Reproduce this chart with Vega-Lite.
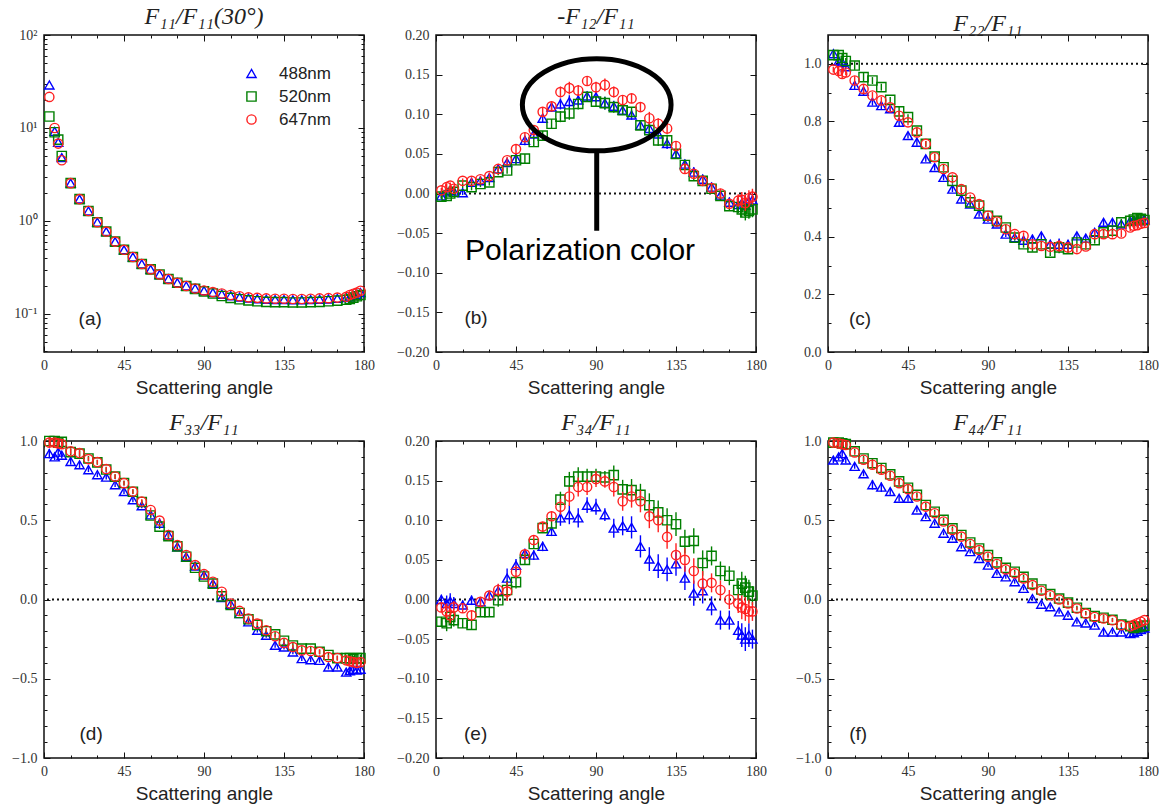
{
"$schema": "https://vega.github.io/schema/vega-lite/v6.json",
"background": "white",
"padding": {"left": 10, "top": 4, "right": 0, "bottom": 0},
"datasets": {
"a": [
{"x":3,"488nm":29,"520nm":13.3,"647nm":21.6},
{"x":6,"488nm":9.2,"520nm":9.0,"647nm":10.0},
{"x":8,"488nm":7.0,"520nm":7.5,"647nm":6.8},
{"x":10,"488nm":4.8,"520nm":5.0,"647nm":4.5},
{"x":15,"488nm":2.55,"520nm":2.55,"647nm":2.55},
{"x":20,"488nm":1.72,"520nm":1.72,"647nm":1.72},
{"x":25,"488nm":1.28,"520nm":1.28,"647nm":1.28},
{"x":30,"488nm":0.97,"520nm":0.97,"647nm":0.97},
{"x":35,"488nm":0.77,"520nm":0.77,"647nm":0.77},
{"x":40,"488nm":0.6,"520nm":0.6,"647nm":0.6},
{"x":45,"488nm":0.49,"520nm":0.49,"647nm":0.49},
{"x":50,"488nm":0.41,"520nm":0.41,"647nm":0.41},
{"x":55,"488nm":0.345,"520nm":0.345,"647nm":0.345},
{"x":60,"488nm":0.302,"520nm":0.302,"647nm":0.302},
{"x":65,"488nm":0.266,"520nm":0.266,"647nm":0.266},
{"x":70,"488nm":0.238,"520nm":0.238,"647nm":0.238},
{"x":75,"488nm":0.217,"520nm":0.217,"647nm":0.217},
{"x":80,"488nm":0.2,"520nm":0.2,"647nm":0.2},
{"x":85,"488nm":0.188,"520nm":0.186,"647nm":0.188},
{"x":90,"488nm":0.178,"520nm":0.175,"647nm":0.179},
{"x":95,"488nm":0.17,"520nm":0.166,"647nm":0.172},
{"x":100,"488nm":0.163,"520nm":0.156,"647nm":0.166},
{"x":105,"488nm":0.157,"520nm":0.149,"647nm":0.16},
{"x":110,"488nm":0.152,"520nm":0.144,"647nm":0.155},
{"x":115,"488nm":0.148,"520nm":0.14,"647nm":0.151},
{"x":120,"488nm":0.146,"520nm":0.137,"647nm":0.149},
{"x":125,"488nm":0.144,"520nm":0.135,"647nm":0.147},
{"x":130,"488nm":0.143,"520nm":0.134,"647nm":0.146},
{"x":135,"488nm":0.143,"520nm":0.134,"647nm":0.146},
{"x":140,"488nm":0.142,"520nm":0.133,"647nm":0.145},
{"x":145,"488nm":0.142,"520nm":0.133,"647nm":0.145},
{"x":150,"488nm":0.143,"520nm":0.134,"647nm":0.146},
{"x":155,"488nm":0.144,"520nm":0.135,"647nm":0.147},
{"x":160,"488nm":0.145,"520nm":0.137,"647nm":0.148},
{"x":165,"488nm":0.147,"520nm":0.139,"647nm":0.15},
{"x":170,"488nm":0.15,"520nm":0.142,"647nm":0.153},
{"x":172,"488nm":0.152,"520nm":0.145,"647nm":0.16},
{"x":174,"488nm":0.158,"520nm":0.15,"647nm":0.165},
{"x":176,"488nm":0.163,"520nm":0.155,"647nm":0.17},
{"x":178,"488nm":0.17,"520nm":0.16,"647nm":0.178}
],
"b": [
{"x":3,"488nm":-0.003,"520nm":-0.004,"647nm":0.004,"e":0.003},
{"x":6,"488nm":0.002,"520nm":-0.003,"647nm":0.008,"e":0.004},
{"x":8,"488nm":0.004,"520nm":0.0,"647nm":0.010,"e":0.004},
{"x":10,"488nm":0.003,"520nm":0.002,"647nm":0.006,"e":0.004},
{"x":15,"488nm":0.001,"520nm":0.010,"647nm":0.016,"e":0.003},
{"x":20,"488nm":0.014,"520nm":0.008,"647nm":0.016,"e":0.004},
{"x":25,"488nm":0.016,"520nm":0.012,"647nm":0.018,"e":0.004},
{"x":30,"488nm":0.020,"520nm":0.014,"647nm":0.022,"e":0.004},
{"x":35,"488nm":0.031,"520nm":0.027,"647nm":0.031,"e":0.004},
{"x":40,"488nm":0.039,"520nm":0.029,"647nm":0.042,"e":0.004},
{"x":45,"488nm":0.044,"520nm":0.042,"647nm":0.056,"e":0.006},
{"x":50,"488nm":0.067,"520nm":0.044,"647nm":0.071,"e":0.006},
{"x":55,"488nm":0.075,"520nm":0.065,"647nm":0.080,"e":0.006},
{"x":60,"488nm":0.095,"520nm":0.073,"647nm":0.103,"e":0.006},
{"x":65,"488nm":0.109,"520nm":0.088,"647nm":0.110,"e":0.006},
{"x":70,"488nm":0.113,"520nm":0.097,"647nm":0.128,"e":0.007},
{"x":75,"488nm":0.116,"520nm":0.101,"647nm":0.133,"e":0.008},
{"x":80,"488nm":0.118,"520nm":0.113,"647nm":0.130,"e":0.007},
{"x":85,"488nm":0.123,"520nm":0.122,"647nm":0.142,"e":0.006},
{"x":90,"488nm":0.122,"520nm":0.116,"647nm":0.134,"e":0.007},
{"x":95,"488nm":0.114,"520nm":0.114,"647nm":0.137,"e":0.008},
{"x":100,"488nm":0.110,"520nm":0.109,"647nm":0.128,"e":0.007},
{"x":105,"488nm":0.105,"520nm":0.105,"647nm":0.118,"e":0.006},
{"x":110,"488nm":0.099,"520nm":0.103,"647nm":0.120,"e":0.006},
{"x":115,"488nm":0.086,"520nm":0.086,"647nm":0.109,"e":0.006},
{"x":120,"488nm":0.082,"520nm":0.080,"647nm":0.095,"e":0.008},
{"x":125,"488nm":0.075,"520nm":0.067,"647nm":0.088,"e":0.007},
{"x":130,"488nm":0.063,"520nm":0.067,"647nm":0.082,"e":0.007},
{"x":135,"488nm":0.050,"520nm":0.050,"647nm":0.060,"e":0.006},
{"x":140,"488nm":0.037,"520nm":0.036,"647nm":0.031,"e":0.006},
{"x":145,"488nm":0.027,"520nm":0.022,"647nm":0.025,"e":0.006},
{"x":150,"488nm":0.018,"520nm":0.016,"647nm":0.016,"e":0.006},
{"x":155,"488nm":0.008,"520nm":0.006,"647nm":0.007,"e":0.006},
{"x":160,"488nm":-0.002,"520nm":-0.003,"647nm":0.000,"e":0.006},
{"x":165,"488nm":-0.011,"520nm":-0.016,"647nm":-0.013,"e":0.006},
{"x":170,"488nm":-0.014,"520nm":-0.017,"647nm":-0.009,"e":0.008},
{"x":172,"488nm":-0.012,"520nm":-0.020,"647nm":-0.008,"e":0.010},
{"x":174,"488nm":-0.015,"520nm":-0.024,"647nm":-0.012,"e":0.010},
{"x":176,"488nm":-0.010,"520nm":-0.022,"647nm":-0.006,"e":0.010},
{"x":178,"488nm":-0.008,"520nm":-0.020,"647nm":-0.004,"e":0.010}
],
"c": [
{"x":3,"488nm":1.035,"520nm":1.03,"647nm":0.98,"e":0.01},
{"x":6,"488nm":1.01,"520nm":1.03,"647nm":0.975,"e":0.015},
{"x":8,"488nm":1.005,"520nm":1.02,"647nm":0.965,"e":0.015},
{"x":10,"488nm":0.99,"520nm":1.01,"647nm":0.97,"e":0.01},
{"x":15,"488nm":0.925,"520nm":0.994,"647nm":0.942,"e":0.015},
{"x":20,"488nm":0.905,"520nm":0.954,"647nm":0.913,"e":0.015},
{"x":25,"488nm":0.867,"520nm":0.942,"647nm":0.89,"e":0.012},
{"x":30,"488nm":0.855,"520nm":0.919,"647nm":0.873,"e":0.012},
{"x":35,"488nm":0.844,"520nm":0.875,"647nm":0.849,"e":0.01},
{"x":40,"488nm":0.797,"520nm":0.835,"647nm":0.82,"e":0.015},
{"x":45,"488nm":0.751,"520nm":0.815,"647nm":0.797,"e":0.01},
{"x":50,"488nm":0.728,"520nm":0.768,"647nm":0.762,"e":0.012},
{"x":55,"488nm":0.67,"520nm":0.722,"647nm":0.722,"e":0.01},
{"x":60,"488nm":0.64,"520nm":0.678,"647nm":0.676,"e":0.01},
{"x":65,"488nm":0.606,"520nm":0.641,"647nm":0.635,"e":0.01},
{"x":70,"488nm":0.565,"520nm":0.594,"647nm":0.606,"e":0.01},
{"x":75,"488nm":0.531,"520nm":0.56,"647nm":0.565,"e":0.01},
{"x":80,"488nm":0.513,"520nm":0.519,"647nm":0.536,"e":0.01},
{"x":85,"488nm":0.479,"520nm":0.508,"647nm":0.513,"e":0.01},
{"x":90,"488nm":0.461,"520nm":0.473,"647nm":0.473,"e":0.01},
{"x":95,"488nm":0.444,"520nm":0.455,"647nm":0.453,"e":0.01},
{"x":100,"488nm":0.409,"520nm":0.432,"647nm":0.426,"e":0.01},
{"x":105,"488nm":0.397,"520nm":0.397,"647nm":0.409,"e":0.01},
{"x":110,"488nm":0.388,"520nm":0.374,"647nm":0.403,"e":0.012},
{"x":115,"488nm":0.392,"520nm":0.363,"647nm":0.374,"e":0.015},
{"x":120,"488nm":0.403,"520nm":0.374,"647nm":0.368,"e":0.012},
{"x":125,"488nm":0.374,"520nm":0.345,"647nm":0.365,"e":0.012},
{"x":130,"488nm":0.374,"520nm":0.363,"647nm":0.368,"e":0.02},
{"x":135,"488nm":0.374,"520nm":0.357,"647nm":0.363,"e":0.015},
{"x":140,"488nm":0.403,"520nm":0.38,"647nm":0.357,"e":0.012},
{"x":145,"488nm":0.395,"520nm":0.374,"647nm":0.366,"e":0.012},
{"x":150,"488nm":0.415,"520nm":0.388,"647nm":0.409,"e":0.012},
{"x":155,"488nm":0.45,"520nm":0.415,"647nm":0.409,"e":0.012},
{"x":160,"488nm":0.45,"520nm":0.421,"647nm":0.409,"e":0.012},
{"x":165,"488nm":0.444,"520nm":0.45,"647nm":0.411,"e":0.012},
{"x":170,"488nm":0.455,"520nm":0.455,"647nm":0.432,"e":0.012},
{"x":172,"488nm":0.455,"520nm":0.46,"647nm":0.438,"e":0.012},
{"x":174,"488nm":0.46,"520nm":0.465,"647nm":0.44,"e":0.012},
{"x":176,"488nm":0.455,"520nm":0.462,"647nm":0.445,"e":0.012},
{"x":178,"488nm":0.46,"520nm":0.458,"647nm":0.448,"e":0.012}
],
"d": [
{"x":3,"488nm":0.92,"520nm":1.0,"647nm":0.99,"e":0.03},
{"x":6,"488nm":0.90,"520nm":1.0,"647nm":0.99,"e":0.02},
{"x":8,"488nm":0.93,"520nm":0.99,"647nm":0.985,"e":0.02},
{"x":10,"488nm":0.91,"520nm":0.995,"647nm":0.98,"e":0.02},
{"x":15,"488nm":0.871,"520nm":0.93,"647nm":0.935,"e":0.02},
{"x":20,"488nm":0.85,"520nm":0.92,"647nm":0.924,"e":0.02},
{"x":25,"488nm":0.819,"520nm":0.89,"647nm":0.886,"e":0.015},
{"x":30,"488nm":0.787,"520nm":0.865,"647nm":0.867,"e":0.015},
{"x":35,"488nm":0.772,"520nm":0.82,"647nm":0.823,"e":0.015},
{"x":40,"488nm":0.724,"520nm":0.775,"647nm":0.776,"e":0.015},
{"x":45,"488nm":0.681,"520nm":0.735,"647nm":0.734,"e":0.015},
{"x":50,"488nm":0.629,"520nm":0.68,"647nm":0.681,"e":0.015},
{"x":55,"488nm":0.591,"520nm":0.615,"647nm":0.618,"e":0.015},
{"x":60,"488nm":0.534,"520nm":0.53,"647nm":0.565,"e":0.015},
{"x":65,"488nm":0.481,"520nm":0.46,"647nm":0.498,"e":0.015},
{"x":70,"488nm":0.407,"520nm":0.40,"647nm":0.407,"e":0.015},
{"x":75,"488nm":0.333,"520nm":0.335,"647nm":0.344,"e":0.015},
{"x":80,"488nm":0.27,"520nm":0.27,"647nm":0.281,"e":0.015},
{"x":85,"488nm":0.211,"520nm":0.2,"647nm":0.217,"e":0.015},
{"x":90,"488nm":0.154,"520nm":0.145,"647nm":0.16,"e":0.015},
{"x":95,"488nm":0.101,"520nm":0.1,"647nm":0.112,"e":0.015},
{"x":100,"488nm":0.013,"520nm":0.02,"647nm":0.049,"e":0.015},
{"x":105,"488nm":-0.03,"520nm":-0.035,"647nm":-0.025,"e":0.015},
{"x":110,"488nm":-0.089,"520nm":-0.085,"647nm":-0.072,"e":0.015},
{"x":115,"488nm":-0.141,"520nm":-0.125,"647nm":-0.12,"e":0.015},
{"x":120,"488nm":-0.194,"520nm":-0.16,"647nm":-0.152,"e":0.015},
{"x":125,"488nm":-0.226,"520nm":-0.2,"647nm":-0.194,"e":0.015},
{"x":130,"488nm":-0.289,"520nm":-0.22,"647nm":-0.232,"e":0.015},
{"x":135,"488nm":-0.3,"520nm":-0.26,"647nm":-0.274,"e":0.015},
{"x":140,"488nm":-0.331,"520nm":-0.29,"647nm":-0.3,"e":0.015},
{"x":145,"488nm":-0.373,"520nm":-0.31,"647nm":-0.321,"e":0.015},
{"x":150,"488nm":-0.38,"520nm":-0.31,"647nm":-0.325,"e":0.015},
{"x":155,"488nm":-0.384,"520nm":-0.33,"647nm":-0.331,"e":0.015},
{"x":160,"488nm":-0.426,"520nm":-0.35,"647nm":-0.363,"e":0.015},
{"x":165,"488nm":-0.426,"520nm":-0.37,"647nm":-0.369,"e":0.015},
{"x":170,"488nm":-0.458,"520nm":-0.37,"647nm":-0.384,"e":0.015},
{"x":172,"488nm":-0.45,"520nm":-0.37,"647nm":-0.39,"e":0.02},
{"x":174,"488nm":-0.44,"520nm":-0.375,"647nm":-0.395,"e":0.02},
{"x":176,"488nm":-0.445,"520nm":-0.37,"647nm":-0.40,"e":0.02},
{"x":178,"488nm":-0.44,"520nm":-0.37,"647nm":-0.395,"e":0.02}
],
"e": [
{"x":3,"488nm":0.0,"520nm":-0.028,"647nm":-0.01,"e":0.006},
{"x":6,"488nm":-0.005,"520nm":-0.03,"647nm":-0.015,"e":0.01},
{"x":8,"488nm":-0.002,"520nm":-0.022,"647nm":-0.02,"e":0.01},
{"x":10,"488nm":-0.005,"520nm":-0.026,"647nm":-0.01,"e":0.008},
{"x":15,"488nm":-0.007,"520nm":-0.03,"647nm":-0.011,"e":0.006},
{"x":20,"488nm":-0.001,"520nm":-0.032,"647nm":-0.02,"e":0.006},
{"x":25,"488nm":-0.003,"520nm":-0.016,"647nm":-0.003,"e":0.006},
{"x":30,"488nm":0.005,"520nm":-0.016,"647nm":0.005,"e":0.006},
{"x":35,"488nm":0.011,"520nm":-0.001,"647nm":0.012,"e":0.008},
{"x":40,"488nm":0.027,"520nm":0.012,"647nm":0.01,"e":0.012},
{"x":45,"488nm":0.043,"520nm":0.022,"647nm":0.035,"e":0.008},
{"x":50,"488nm":0.058,"520nm":0.05,"647nm":0.057,"e":0.006},
{"x":55,"488nm":0.056,"520nm":0.07,"647nm":0.075,"e":0.006},
{"x":60,"488nm":0.067,"520nm":0.09,"647nm":0.092,"e":0.006},
{"x":65,"488nm":0.086,"520nm":0.096,"647nm":0.105,"e":0.006},
{"x":70,"488nm":0.103,"520nm":0.126,"647nm":0.117,"e":0.01},
{"x":75,"488nm":0.107,"520nm":0.149,"647nm":0.13,"e":0.012},
{"x":80,"488nm":0.103,"520nm":0.155,"647nm":0.142,"e":0.012},
{"x":85,"488nm":0.119,"520nm":0.155,"647nm":0.142,"e":0.01},
{"x":90,"488nm":0.117,"520nm":0.155,"647nm":0.152,"e":0.01},
{"x":95,"488nm":0.107,"520nm":0.154,"647nm":0.149,"e":0.008},
{"x":100,"488nm":0.09,"520nm":0.157,"647nm":0.142,"e":0.012},
{"x":105,"488nm":0.093,"520nm":0.139,"647nm":0.124,"e":0.012},
{"x":110,"488nm":0.091,"520nm":0.138,"647nm":0.13,"e":0.014},
{"x":115,"488nm":0.067,"520nm":0.132,"647nm":0.124,"e":0.014},
{"x":120,"488nm":0.051,"520nm":0.119,"647nm":0.105,"e":0.015},
{"x":125,"488nm":0.042,"520nm":0.11,"647nm":0.1,"e":0.015},
{"x":130,"488nm":0.038,"520nm":0.1,"647nm":0.079,"e":0.015},
{"x":135,"488nm":0.045,"520nm":0.095,"647nm":0.056,"e":0.015},
{"x":140,"488nm":0.027,"520nm":0.073,"647nm":0.05,"e":0.015},
{"x":145,"488nm":0.008,"520nm":0.074,"647nm":0.036,"e":0.016},
{"x":150,"488nm":0.011,"520nm":0.046,"647nm":0.02,"e":0.016},
{"x":155,"488nm":-0.008,"520nm":0.055,"647nm":0.021,"e":0.012},
{"x":160,"488nm":-0.026,"520nm":0.036,"647nm":0.012,"e":0.012},
{"x":165,"488nm":-0.026,"520nm":0.03,"647nm":0.0,"e":0.012},
{"x":170,"488nm":-0.039,"520nm":0.012,"647nm":-0.005,"e":0.012},
{"x":172,"488nm":-0.045,"520nm":0.02,"647nm":-0.01,"e":0.015},
{"x":174,"488nm":-0.05,"520nm":0.015,"647nm":-0.012,"e":0.015},
{"x":176,"488nm":-0.045,"520nm":0.01,"647nm":-0.015,"e":0.015},
{"x":178,"488nm":-0.05,"520nm":0.005,"647nm":-0.015,"e":0.012}
],
"f": [
{"x":3,"488nm":0.88,"520nm":0.99,"647nm":0.99,"e":0.02},
{"x":6,"488nm":0.90,"520nm":0.99,"647nm":0.985,"e":0.02},
{"x":8,"488nm":0.92,"520nm":0.985,"647nm":0.98,"e":0.02},
{"x":10,"488nm":0.88,"520nm":0.98,"647nm":0.975,"e":0.02},
{"x":15,"488nm":0.84,"520nm":0.935,"647nm":0.928,"e":0.015},
{"x":20,"488nm":0.793,"520nm":0.89,"647nm":0.882,"e":0.015},
{"x":25,"488nm":0.724,"520nm":0.86,"647nm":0.85,"e":0.03},
{"x":30,"488nm":0.709,"520nm":0.83,"647nm":0.819,"e":0.03},
{"x":35,"488nm":0.681,"520nm":0.79,"647nm":0.781,"e":0.02},
{"x":40,"488nm":0.639,"520nm":0.745,"647nm":0.734,"e":0.02},
{"x":45,"488nm":0.639,"520nm":0.705,"647nm":0.696,"e":0.02},
{"x":50,"488nm":0.565,"520nm":0.66,"647nm":0.65,"e":0.015},
{"x":55,"488nm":0.523,"520nm":0.596,"647nm":0.586,"e":0.015},
{"x":60,"488nm":0.481,"520nm":0.554,"647nm":0.544,"e":0.012},
{"x":65,"488nm":0.418,"520nm":0.502,"647nm":0.492,"e":0.012},
{"x":70,"488nm":0.386,"520nm":0.449,"647nm":0.439,"e":0.012},
{"x":75,"488nm":0.333,"520nm":0.407,"647nm":0.397,"e":0.012},
{"x":80,"488nm":0.302,"520nm":0.36,"647nm":0.35,"e":0.012},
{"x":85,"488nm":0.259,"520nm":0.322,"647nm":0.312,"e":0.012},
{"x":90,"488nm":0.217,"520nm":0.28,"647nm":0.27,"e":0.012},
{"x":95,"488nm":0.165,"520nm":0.234,"647nm":0.224,"e":0.012},
{"x":100,"488nm":0.143,"520nm":0.2,"647nm":0.19,"e":0.012},
{"x":105,"488nm":0.112,"520nm":0.175,"647nm":0.165,"e":0.012},
{"x":110,"488nm":0.07,"520nm":0.143,"647nm":0.133,"e":0.012},
{"x":115,"488nm":0.006,"520nm":0.1,"647nm":0.091,"e":0.012},
{"x":120,"488nm":-0.03,"520nm":0.063,"647nm":0.055,"e":0.012},
{"x":125,"488nm":-0.046,"520nm":0.034,"647nm":0.027,"e":0.012},
{"x":130,"488nm":-0.078,"520nm":0.006,"647nm":0.0,"e":0.012},
{"x":135,"488nm":-0.099,"520nm":-0.02,"647nm":-0.025,"e":0.012},
{"x":140,"488nm":-0.141,"520nm":-0.052,"647nm":-0.057,"e":0.012},
{"x":145,"488nm":-0.148,"520nm":-0.085,"647nm":-0.089,"e":0.012},
{"x":150,"488nm":-0.162,"520nm":-0.105,"647nm":-0.11,"e":0.012},
{"x":155,"488nm":-0.205,"520nm":-0.115,"647nm":-0.12,"e":0.02},
{"x":160,"488nm":-0.205,"520nm":-0.128,"647nm":-0.131,"e":0.012},
{"x":165,"488nm":-0.205,"520nm":-0.158,"647nm":-0.162,"e":0.012},
{"x":170,"488nm":-0.215,"520nm":-0.168,"647nm":-0.169,"e":0.012},
{"x":172,"488nm":-0.21,"520nm":-0.18,"647nm":-0.16,"e":0.012},
{"x":174,"488nm":-0.2,"520nm":-0.175,"647nm":-0.15,"e":0.012},
{"x":176,"488nm":-0.19,"520nm":-0.17,"647nm":-0.14,"e":0.012},
{"x":178,"488nm":-0.18,"520nm":-0.165,"647nm":-0.13,"e":0.012}
]
},
"columns": 3,
"spacing": {"row": 89, "column": 72},
"bounds": "flush",
"align": "all",
"resolve": {"scale": {"color": "shared", "shape": "shared"}, "legend": {"color": "shared", "shape": "shared"}},
"concat": [
{
"width": 320, "height": 317,
"title": {"text": "F₁₁/F₁₁(30°)"},
"data": {"name": "a"},
"resolve": {"axis": {"x": "independent", "y": "independent"}},
"layer": [
{"transform": [{"fold": ["488nm","520nm","647nm"], "as": ["s","v"]}, {"filter": "datum.s === '488nm'"}],
 "mark": {"type": "point", "filled": false, "size": 85, "strokeWidth": 1.4, "opacity": 1},
 "encoding": {
  "x": {"field": "x", "type": "quantitative", "scale": {"domain": [0,180], "nice": false, "zero": false}, "axis": {"orient": "bottom", "values": [0,45,90,135,180], "format": "d", "tickSize": -6, "labelPadding": 12, "title": "Scattering angle", "labelFlush": false, "labelOverlap": false}},
  "y": {"field": "v", "type": "quantitative", "scale": {"type": "log", "domain": [0.039,100], "nice": false}, "axis": {"orient": "left", "values": [0.1,1,10,100], "labelExpr": "datum.value >= 100 ? '10²' : datum.value >= 10 ? '10¹' : datum.value >= 1 ? '10⁰' : '10⁻¹'", "tickSize": -6, "labelPadding": 13, "title": null, "labelFlush": false, "labelOverlap": false}},
  "color": {"field": "s", "type": "nominal", "scale": {"domain": ["488nm","520nm","647nm"], "range": ["#0000ff","#007f00","#ff2020"]}, "legend": {"title": null, "orient": "none", "legendX": 199, "legendY": 30, "labelOffset": 19, "symbolSize": 85, "symbolStrokeWidth": 1.4, "labelFontSize": 17, "rowPadding": 5}},
  "shape": {"field": "s", "type": "nominal", "scale": {"domain": ["488nm","520nm","647nm"], "range": ["triangle-up","square","circle"]}, "legend": {"title": null, "orient": "none", "legendX": 199, "legendY": 30, "labelOffset": 19, "symbolSize": 85, "symbolStrokeWidth": 1.4, "labelFontSize": 17, "rowPadding": 5}}
 }},
{"transform": [{"fold": ["488nm","520nm","647nm"], "as": ["s","v"]}, {"filter": "datum.s === '520nm'"}],
 "mark": {"type": "point", "filled": false, "size": 85, "strokeWidth": 1.4, "opacity": 1},
 "encoding": {
  "x": {"field": "x", "type": "quantitative", "scale": {"domain": [0,180], "nice": false, "zero": false}, "axis": {"orient": "bottom", "values": [15,30,60,75,105,120,150,165], "tickSize": -3, "labels": false, "title": null}},
  "y": {"field": "v", "type": "quantitative", "scale": {"type": "log", "domain": [0.039,100], "nice": false}, "axis": {"orient": "left", "values": [0.04,0.05,0.06,0.07,0.08,0.09,0.2,0.3,0.4,0.5,0.6,0.7,0.8,0.9,2,3,4,5,6,7,8,9,20,30,40,50,60,70,80,90], "tickSize": -3, "labels": false, "title": null}},
  "color": {"field": "s", "type": "nominal", "scale": {"domain": ["488nm","520nm","647nm"], "range": ["#0000ff","#007f00","#ff2020"]}},
  "shape": {"field": "s", "type": "nominal", "scale": {"domain": ["488nm","520nm","647nm"], "range": ["triangle-up","square","circle"]}}
 }},
{"transform": [{"fold": ["488nm","520nm","647nm"], "as": ["s","v"]}, {"filter": "datum.s === '647nm'"}],
 "mark": {"type": "point", "filled": false, "size": 85, "strokeWidth": 1.4, "opacity": 1},
 "encoding": {
  "x": {"field": "x", "type": "quantitative", "scale": {"domain": [0,180], "nice": false, "zero": false}, "axis": {"orient": "top", "values": [0,45,90,135,180], "tickSize": -6, "labels": false, "title": null}},
  "y": {"field": "v", "type": "quantitative", "scale": {"type": "log", "domain": [0.039,100], "nice": false}, "axis": {"orient": "right", "values": [0.1,1,10,100], "tickSize": -6, "labels": false, "title": null}},
  "color": {"field": "s", "type": "nominal", "scale": {"domain": ["488nm","520nm","647nm"], "range": ["#0000ff","#007f00","#ff2020"]}},
  "shape": {"field": "s", "type": "nominal", "scale": {"domain": ["488nm","520nm","647nm"], "range": ["triangle-up","square","circle"]}}
 }},
{"mark": {"type": "point", "opacity": 0},
 "encoding": {
  "x": {"field": "x", "type": "quantitative", "scale": {"domain": [0,180], "nice": false, "zero": false}, "axis": {"orient": "top", "values": [15,30,60,75,105,120,150,165], "tickSize": -3, "labels": false, "title": null}},
  "y": {"field": "488nm", "type": "quantitative", "scale": {"type": "log", "domain": [0.039,100], "nice": false}, "axis": {"orient": "right", "values": [0.04,0.05,0.06,0.07,0.08,0.09,0.2,0.3,0.4,0.5,0.6,0.7,0.8,0.9,2,3,4,5,6,7,8,9,20,30,40,50,60,70,80,90], "tickSize": -3, "labels": false, "title": null}}
 }},
{"data": {"values": [{}]},
 "mark": {"type": "text", "text": "(a)", "font": "Liberation Sans", "fontSize": 19, "color": "#222", "align": "center", "baseline": "middle"},
 "encoding": {"x": {"datum": 26, "type": "quantitative", "axis": null}, "y": {"datum": 0.088, "type": "quantitative", "axis": null}}}
]
},
{
"width": 320, "height": 317,
"title": {"text": "-F₁₂/F₁₁"},
"data": {"name": "b"},
"resolve": {"axis": {"x": "independent", "y": "independent"}},
"layer": [
{"data": {"values": [{}]}, "mark": {"type": "rule", "strokeDash": [2,3], "strokeWidth": 2, "color": "#111"},
 "encoding": {"y": {"datum": 0, "type": "quantitative", "scale": {"domain": [-0.2,0.2], "nice": false}, "axis": null}}},
{"transform": [{"fold": ["488nm","520nm","647nm"], "as": ["s","v"]}, {"filter": "datum.s === '488nm'"}],
 "mark": {"type": "errorbar", "ticks": false, "thickness": 1.4},
 "encoding": {"x": {"field": "x", "type": "quantitative", "scale": {"domain": [0,180], "nice": false, "zero": false}, "axis": null}, "y": {"field": "v", "type": "quantitative", "scale": {"domain": [-0.2,0.2], "nice": false}, "axis": null}, "yError": {"field": "e"}, "color": {"field": "s", "type": "nominal", "legend": null, "scale": {"domain": ["488nm","520nm","647nm"], "range": ["#0000ff","#007f00","#ff2020"]}}}},
{"transform": [{"fold": ["488nm","520nm","647nm"], "as": ["s","v"]}, {"filter": "datum.s === '488nm'"}],
 "mark": {"type": "point", "filled": false, "size": 85, "strokeWidth": 1.4, "opacity": 1},
 "encoding": {
  "x": {"field": "x", "type": "quantitative", "scale": {"domain": [0,180], "nice": false, "zero": false}, "axis": {"orient": "bottom", "values": [0,45,90,135,180], "format": "d", "tickSize": -6, "labelPadding": 12, "title": "Scattering angle", "labelFlush": false, "labelOverlap": false}},
  "y": {"field": "v", "type": "quantitative", "scale": {"domain": [-0.2,0.2], "nice": false}, "axis": {"orient": "left", "values": [-0.2,-0.15,-0.1,-0.05,0,0.05,0.1,0.15,0.2], "format": ".2f", "tickSize": -6, "labelPadding": 13, "title": null, "labelFlush": false, "labelOverlap": false}},
  "color": {"field": "s", "type": "nominal", "scale": {"domain": ["488nm","520nm","647nm"], "range": ["#0000ff","#007f00","#ff2020"]}},
  "shape": {"field": "s", "type": "nominal", "scale": {"domain": ["488nm","520nm","647nm"], "range": ["triangle-up","square","circle"]}}
 }},
{"transform": [{"fold": ["488nm","520nm","647nm"], "as": ["s","v"]}, {"filter": "datum.s === '520nm'"}],
 "mark": {"type": "errorbar", "ticks": false, "thickness": 1.4},
 "encoding": {"x": {"field": "x", "type": "quantitative", "scale": {"domain": [0,180], "nice": false, "zero": false}, "axis": null}, "y": {"field": "v", "type": "quantitative", "scale": {"domain": [-0.2,0.2], "nice": false}, "axis": null}, "yError": {"field": "e"}, "color": {"field": "s", "type": "nominal", "legend": null, "scale": {"domain": ["488nm","520nm","647nm"], "range": ["#0000ff","#007f00","#ff2020"]}}}},
{"transform": [{"fold": ["488nm","520nm","647nm"], "as": ["s","v"]}, {"filter": "datum.s === '520nm'"}],
 "mark": {"type": "point", "filled": false, "size": 85, "strokeWidth": 1.4, "opacity": 1},
 "encoding": {
  "x": {"field": "x", "type": "quantitative", "scale": {"domain": [0,180], "nice": false, "zero": false}, "axis": {"orient": "bottom", "values": [15,30,60,75,105,120,150,165], "tickSize": -3, "labels": false, "title": null}},
  "y": {"field": "v", "type": "quantitative", "scale": {"domain": [-0.2,0.2], "nice": false}, "axis": null},
  "color": {"field": "s", "type": "nominal", "scale": {"domain": ["488nm","520nm","647nm"], "range": ["#0000ff","#007f00","#ff2020"]}},
  "shape": {"field": "s", "type": "nominal", "scale": {"domain": ["488nm","520nm","647nm"], "range": ["triangle-up","square","circle"]}}
 }},
{"transform": [{"fold": ["488nm","520nm","647nm"], "as": ["s","v"]}, {"filter": "datum.s === '647nm'"}],
 "mark": {"type": "errorbar", "ticks": false, "thickness": 1.4},
 "encoding": {"x": {"field": "x", "type": "quantitative", "scale": {"domain": [0,180], "nice": false, "zero": false}, "axis": null}, "y": {"field": "v", "type": "quantitative", "scale": {"domain": [-0.2,0.2], "nice": false}, "axis": null}, "yError": {"field": "e"}, "color": {"field": "s", "type": "nominal", "legend": null, "scale": {"domain": ["488nm","520nm","647nm"], "range": ["#0000ff","#007f00","#ff2020"]}}}},
{"transform": [{"fold": ["488nm","520nm","647nm"], "as": ["s","v"]}, {"filter": "datum.s === '647nm'"}],
 "mark": {"type": "point", "filled": false, "size": 85, "strokeWidth": 1.4, "opacity": 1},
 "encoding": {
  "x": {"field": "x", "type": "quantitative", "scale": {"domain": [0,180], "nice": false, "zero": false}, "axis": {"orient": "top", "values": [0,45,90,135,180], "tickSize": -6, "labels": false, "title": null}},
  "y": {"field": "v", "type": "quantitative", "scale": {"domain": [-0.2,0.2], "nice": false}, "axis": {"orient": "right", "values": [-0.2,-0.15,-0.1,-0.05,0,0.05,0.1,0.15,0.2], "tickSize": -6, "labels": false, "title": null}},
  "color": {"field": "s", "type": "nominal", "scale": {"domain": ["488nm","520nm","647nm"], "range": ["#0000ff","#007f00","#ff2020"]}},
  "shape": {"field": "s", "type": "nominal", "scale": {"domain": ["488nm","520nm","647nm"], "range": ["triangle-up","square","circle"]}}
 }},
{"mark": {"type": "point", "opacity": 0},
 "encoding": {
  "x": {"field": "x", "type": "quantitative", "scale": {"domain": [0,180], "nice": false, "zero": false}, "axis": {"orient": "top", "values": [15,30,60,75,105,120,150,165], "tickSize": -3, "labels": false, "title": null}},
  "y": {"field": "488nm", "type": "quantitative", "scale": {"domain": [-0.2,0.2], "nice": false}, "axis": null}
 }},
{"data": {"values": [{}]},
 "mark": {"type": "text", "text": "(b)", "font": "Liberation Sans", "fontSize": 19, "color": "#222", "align": "center", "baseline": "middle"},
 "encoding": {"x": {"datum": 22.5, "type": "quantitative", "axis": null}, "y": {"datum": -0.157, "type": "quantitative", "axis": null}}},
{"data": {"values": [{}]},
 "mark": {"type": "point", "shape": "M -1 0 C -1 -0.3424 -0.5523 -0.62 0 -0.62 C 0.5523 -0.62 1 -0.3424 1 0 C 1 0.3424 0.5523 0.62 0 0.62 C -0.5523 0.62 -1 0.3424 -1 0 Z", "size": 22112, "filled": false, "stroke": "black", "strokeWidth": 5, "opacity": 1},
 "encoding": {"x": {"datum": 90.4, "type": "quantitative", "axis": null}, "y": {"datum": 0.112, "type": "quantitative", "axis": null}}},
{"data": {"values": [{}]},
 "mark": {"type": "rule", "strokeWidth": 5, "color": "black"},
 "encoding": {"x": {"datum": 90.4, "type": "quantitative", "axis": null}, "y": {"datum": 0.054, "type": "quantitative", "axis": null}, "y2": {"datum": -0.047}}},
{"data": {"values": [{}]},
 "mark": {"type": "text", "text": "Polarization color", "font": "Liberation Sans", "fontSize": 30, "color": "black", "align": "center", "baseline": "alphabetic"},
 "encoding": {"x": {"datum": 81, "type": "quantitative", "axis": null}, "y": {"datum": -0.0836, "type": "quantitative", "axis": null}}}
]
},
{
"width": 320, "height": 317,
"title": {"text": "F₂₂/F₁₁"},
"data": {"name": "c"},
"resolve": {"axis": {"x": "independent", "y": "independent"}},
"layer": [
{"data": {"values": [{}]}, "mark": {"type": "rule", "strokeDash": [2,3], "strokeWidth": 2, "color": "#111"},
 "encoding": {"y": {"datum": 1, "type": "quantitative", "scale": {"domain": [0,1.1], "nice": false}, "axis": null}}},
{"transform": [{"fold": ["488nm","520nm","647nm"], "as": ["s","v"]}, {"filter": "datum.s === '488nm'"}],
 "mark": {"type": "errorbar", "ticks": false, "thickness": 1.4},
 "encoding": {"x": {"field": "x", "type": "quantitative", "scale": {"domain": [0,180], "nice": false, "zero": false}, "axis": null}, "y": {"field": "v", "type": "quantitative", "scale": {"domain": [0,1.1], "nice": false}, "axis": null}, "yError": {"field": "e"}, "color": {"field": "s", "type": "nominal", "legend": null, "scale": {"domain": ["488nm","520nm","647nm"], "range": ["#0000ff","#007f00","#ff2020"]}}}},
{"transform": [{"fold": ["488nm","520nm","647nm"], "as": ["s","v"]}, {"filter": "datum.s === '488nm'"}],
 "mark": {"type": "point", "filled": false, "size": 85, "strokeWidth": 1.4, "opacity": 1},
 "encoding": {
  "x": {"field": "x", "type": "quantitative", "scale": {"domain": [0,180], "nice": false, "zero": false}, "axis": {"orient": "bottom", "values": [0,45,90,135,180], "format": "d", "tickSize": -6, "labelPadding": 12, "title": "Scattering angle", "labelFlush": false, "labelOverlap": false}},
  "y": {"field": "v", "type": "quantitative", "scale": {"domain": [0,1.1], "nice": false}, "axis": {"orient": "left", "values": [0,0.2,0.4,0.6,0.8,1.0], "format": ".1f", "tickSize": -6, "labelPadding": 13, "title": null, "labelFlush": false, "labelOverlap": false}},
  "color": {"field": "s", "type": "nominal", "scale": {"domain": ["488nm","520nm","647nm"], "range": ["#0000ff","#007f00","#ff2020"]}},
  "shape": {"field": "s", "type": "nominal", "scale": {"domain": ["488nm","520nm","647nm"], "range": ["triangle-up","square","circle"]}}
 }},
{"transform": [{"fold": ["488nm","520nm","647nm"], "as": ["s","v"]}, {"filter": "datum.s === '520nm'"}],
 "mark": {"type": "errorbar", "ticks": false, "thickness": 1.4},
 "encoding": {"x": {"field": "x", "type": "quantitative", "scale": {"domain": [0,180], "nice": false, "zero": false}, "axis": null}, "y": {"field": "v", "type": "quantitative", "scale": {"domain": [0,1.1], "nice": false}, "axis": null}, "yError": {"field": "e"}, "color": {"field": "s", "type": "nominal", "legend": null, "scale": {"domain": ["488nm","520nm","647nm"], "range": ["#0000ff","#007f00","#ff2020"]}}}},
{"transform": [{"fold": ["488nm","520nm","647nm"], "as": ["s","v"]}, {"filter": "datum.s === '520nm'"}],
 "mark": {"type": "point", "filled": false, "size": 85, "strokeWidth": 1.4, "opacity": 1},
 "encoding": {
  "x": {"field": "x", "type": "quantitative", "scale": {"domain": [0,180], "nice": false, "zero": false}, "axis": {"orient": "bottom", "values": [15,30,60,75,105,120,150,165], "tickSize": -3, "labels": false, "title": null}},
  "y": {"field": "v", "type": "quantitative", "scale": {"domain": [0,1.1], "nice": false}, "axis": {"orient": "left", "values": [0.1,0.3,0.5,0.7,0.9], "tickSize": -3, "labels": false, "title": null}},
  "color": {"field": "s", "type": "nominal", "scale": {"domain": ["488nm","520nm","647nm"], "range": ["#0000ff","#007f00","#ff2020"]}},
  "shape": {"field": "s", "type": "nominal", "scale": {"domain": ["488nm","520nm","647nm"], "range": ["triangle-up","square","circle"]}}
 }},
{"transform": [{"fold": ["488nm","520nm","647nm"], "as": ["s","v"]}, {"filter": "datum.s === '647nm'"}],
 "mark": {"type": "errorbar", "ticks": false, "thickness": 1.4},
 "encoding": {"x": {"field": "x", "type": "quantitative", "scale": {"domain": [0,180], "nice": false, "zero": false}, "axis": null}, "y": {"field": "v", "type": "quantitative", "scale": {"domain": [0,1.1], "nice": false}, "axis": null}, "yError": {"field": "e"}, "color": {"field": "s", "type": "nominal", "legend": null, "scale": {"domain": ["488nm","520nm","647nm"], "range": ["#0000ff","#007f00","#ff2020"]}}}},
{"transform": [{"fold": ["488nm","520nm","647nm"], "as": ["s","v"]}, {"filter": "datum.s === '647nm'"}],
 "mark": {"type": "point", "filled": false, "size": 85, "strokeWidth": 1.4, "opacity": 1},
 "encoding": {
  "x": {"field": "x", "type": "quantitative", "scale": {"domain": [0,180], "nice": false, "zero": false}, "axis": {"orient": "top", "values": [0,45,90,135,180], "tickSize": -6, "labels": false, "title": null}},
  "y": {"field": "v", "type": "quantitative", "scale": {"domain": [0,1.1], "nice": false}, "axis": {"orient": "right", "values": [0,0.2,0.4,0.6,0.8,1.0], "tickSize": -6, "labels": false, "title": null}},
  "color": {"field": "s", "type": "nominal", "scale": {"domain": ["488nm","520nm","647nm"], "range": ["#0000ff","#007f00","#ff2020"]}},
  "shape": {"field": "s", "type": "nominal", "scale": {"domain": ["488nm","520nm","647nm"], "range": ["triangle-up","square","circle"]}}
 }},
{"mark": {"type": "point", "opacity": 0},
 "encoding": {
  "x": {"field": "x", "type": "quantitative", "scale": {"domain": [0,180], "nice": false, "zero": false}, "axis": {"orient": "top", "values": [15,30,60,75,105,120,150,165], "tickSize": -3, "labels": false, "title": null}},
  "y": {"field": "488nm", "type": "quantitative", "scale": {"domain": [0,1.1], "nice": false}, "axis": {"orient": "right", "values": [0.1,0.3,0.5,0.7,0.9], "tickSize": -3, "labels": false, "title": null}}
 }},
{"data": {"values": [{}]},
 "mark": {"type": "text", "text": "(c)", "font": "Liberation Sans", "fontSize": 19, "color": "#222", "align": "center", "baseline": "middle"},
 "encoding": {"x": {"datum": 18, "type": "quantitative", "axis": null}, "y": {"datum": 0.115, "type": "quantitative", "axis": null}}}
]
},
{
"width": 320, "height": 317,
"title": {"text": "F₃₃/F₁₁"},
"data": {"name": "d"},
"resolve": {"axis": {"x": "independent", "y": "independent"}},
"layer": [
{"data": {"values": [{}]}, "mark": {"type": "rule", "strokeDash": [2,3], "strokeWidth": 2, "color": "#111"},
 "encoding": {"y": {"datum": 0, "type": "quantitative", "scale": {"domain": [-1,1], "nice": false}, "axis": null}}},
{"transform": [{"fold": ["488nm","520nm","647nm"], "as": ["s","v"]}, {"filter": "datum.s === '488nm'"}],
 "mark": {"type": "errorbar", "ticks": false, "thickness": 1.4},
 "encoding": {"x": {"field": "x", "type": "quantitative", "scale": {"domain": [0,180], "nice": false, "zero": false}, "axis": null}, "y": {"field": "v", "type": "quantitative", "scale": {"domain": [-1,1], "nice": false}, "axis": null}, "yError": {"field": "e"}, "color": {"field": "s", "type": "nominal", "legend": null, "scale": {"domain": ["488nm","520nm","647nm"], "range": ["#0000ff","#007f00","#ff2020"]}}}},
{"transform": [{"fold": ["488nm","520nm","647nm"], "as": ["s","v"]}, {"filter": "datum.s === '488nm'"}],
 "mark": {"type": "point", "filled": false, "size": 85, "strokeWidth": 1.4, "opacity": 1},
 "encoding": {
  "x": {"field": "x", "type": "quantitative", "scale": {"domain": [0,180], "nice": false, "zero": false}, "axis": {"orient": "bottom", "values": [0,45,90,135,180], "format": "d", "tickSize": -6, "labelPadding": 12, "title": "Scattering angle", "labelFlush": false, "labelOverlap": false}},
  "y": {"field": "v", "type": "quantitative", "scale": {"domain": [-1,1], "nice": false}, "axis": {"orient": "left", "values": [-1,-0.5,0,0.5,1], "format": ".1f", "tickSize": -6, "labelPadding": 13, "title": null, "labelFlush": false, "labelOverlap": false}},
  "color": {"field": "s", "type": "nominal", "scale": {"domain": ["488nm","520nm","647nm"], "range": ["#0000ff","#007f00","#ff2020"]}},
  "shape": {"field": "s", "type": "nominal", "scale": {"domain": ["488nm","520nm","647nm"], "range": ["triangle-up","square","circle"]}}
 }},
{"transform": [{"fold": ["488nm","520nm","647nm"], "as": ["s","v"]}, {"filter": "datum.s === '520nm'"}],
 "mark": {"type": "errorbar", "ticks": false, "thickness": 1.4},
 "encoding": {"x": {"field": "x", "type": "quantitative", "scale": {"domain": [0,180], "nice": false, "zero": false}, "axis": null}, "y": {"field": "v", "type": "quantitative", "scale": {"domain": [-1,1], "nice": false}, "axis": null}, "yError": {"field": "e"}, "color": {"field": "s", "type": "nominal", "legend": null, "scale": {"domain": ["488nm","520nm","647nm"], "range": ["#0000ff","#007f00","#ff2020"]}}}},
{"transform": [{"fold": ["488nm","520nm","647nm"], "as": ["s","v"]}, {"filter": "datum.s === '520nm'"}],
 "mark": {"type": "point", "filled": false, "size": 85, "strokeWidth": 1.4, "opacity": 1},
 "encoding": {
  "x": {"field": "x", "type": "quantitative", "scale": {"domain": [0,180], "nice": false, "zero": false}, "axis": {"orient": "bottom", "values": [15,30,60,75,105,120,150,165], "tickSize": -3, "labels": false, "title": null}},
  "y": {"field": "v", "type": "quantitative", "scale": {"domain": [-1,1], "nice": false}, "axis": {"orient": "left", "values": [-0.9,-0.8,-0.7,-0.6,-0.4,-0.3,-0.2,-0.1,0.1,0.2,0.3,0.4,0.6,0.7,0.8,0.9], "tickSize": -3, "labels": false, "title": null}},
  "color": {"field": "s", "type": "nominal", "scale": {"domain": ["488nm","520nm","647nm"], "range": ["#0000ff","#007f00","#ff2020"]}},
  "shape": {"field": "s", "type": "nominal", "scale": {"domain": ["488nm","520nm","647nm"], "range": ["triangle-up","square","circle"]}}
 }},
{"transform": [{"fold": ["488nm","520nm","647nm"], "as": ["s","v"]}, {"filter": "datum.s === '647nm'"}],
 "mark": {"type": "errorbar", "ticks": false, "thickness": 1.4},
 "encoding": {"x": {"field": "x", "type": "quantitative", "scale": {"domain": [0,180], "nice": false, "zero": false}, "axis": null}, "y": {"field": "v", "type": "quantitative", "scale": {"domain": [-1,1], "nice": false}, "axis": null}, "yError": {"field": "e"}, "color": {"field": "s", "type": "nominal", "legend": null, "scale": {"domain": ["488nm","520nm","647nm"], "range": ["#0000ff","#007f00","#ff2020"]}}}},
{"transform": [{"fold": ["488nm","520nm","647nm"], "as": ["s","v"]}, {"filter": "datum.s === '647nm'"}],
 "mark": {"type": "point", "filled": false, "size": 85, "strokeWidth": 1.4, "opacity": 1},
 "encoding": {
  "x": {"field": "x", "type": "quantitative", "scale": {"domain": [0,180], "nice": false, "zero": false}, "axis": {"orient": "top", "values": [0,45,90,135,180], "tickSize": -6, "labels": false, "title": null}},
  "y": {"field": "v", "type": "quantitative", "scale": {"domain": [-1,1], "nice": false}, "axis": {"orient": "right", "values": [-1,-0.5,0,0.5,1], "tickSize": -6, "labels": false, "title": null}},
  "color": {"field": "s", "type": "nominal", "scale": {"domain": ["488nm","520nm","647nm"], "range": ["#0000ff","#007f00","#ff2020"]}},
  "shape": {"field": "s", "type": "nominal", "scale": {"domain": ["488nm","520nm","647nm"], "range": ["triangle-up","square","circle"]}}
 }},
{"mark": {"type": "point", "opacity": 0},
 "encoding": {
  "x": {"field": "x", "type": "quantitative", "scale": {"domain": [0,180], "nice": false, "zero": false}, "axis": {"orient": "top", "values": [15,30,60,75,105,120,150,165], "tickSize": -3, "labels": false, "title": null}},
  "y": {"field": "488nm", "type": "quantitative", "scale": {"domain": [-1,1], "nice": false}, "axis": {"orient": "right", "values": [-0.9,-0.8,-0.7,-0.6,-0.4,-0.3,-0.2,-0.1,0.1,0.2,0.3,0.4,0.6,0.7,0.8,0.9], "tickSize": -3, "labels": false, "title": null}}
 }},
{"data": {"values": [{}]},
 "mark": {"type": "text", "text": "(d)", "font": "Liberation Sans", "fontSize": 19, "color": "#222", "align": "center", "baseline": "middle"},
 "encoding": {"x": {"datum": 26.5, "type": "quantitative", "axis": null}, "y": {"datum": -0.85, "type": "quantitative", "axis": null}}}
]
},
{
"width": 320, "height": 317,
"title": {"text": "F₃₄/F₁₁"},
"data": {"name": "e"},
"resolve": {"axis": {"x": "independent", "y": "independent"}},
"layer": [
{"data": {"values": [{}]}, "mark": {"type": "rule", "strokeDash": [2,3], "strokeWidth": 2, "color": "#111"},
 "encoding": {"y": {"datum": 0, "type": "quantitative", "scale": {"domain": [-0.2,0.2], "nice": false}, "axis": null}}},
{"transform": [{"fold": ["488nm","520nm","647nm"], "as": ["s","v"]}, {"filter": "datum.s === '488nm'"}],
 "mark": {"type": "errorbar", "ticks": false, "thickness": 1.4},
 "encoding": {"x": {"field": "x", "type": "quantitative", "scale": {"domain": [0,180], "nice": false, "zero": false}, "axis": null}, "y": {"field": "v", "type": "quantitative", "scale": {"domain": [-0.2,0.2], "nice": false}, "axis": null}, "yError": {"field": "e"}, "color": {"field": "s", "type": "nominal", "legend": null, "scale": {"domain": ["488nm","520nm","647nm"], "range": ["#0000ff","#007f00","#ff2020"]}}}},
{"transform": [{"fold": ["488nm","520nm","647nm"], "as": ["s","v"]}, {"filter": "datum.s === '488nm'"}],
 "mark": {"type": "point", "filled": false, "size": 85, "strokeWidth": 1.4, "opacity": 1},
 "encoding": {
  "x": {"field": "x", "type": "quantitative", "scale": {"domain": [0,180], "nice": false, "zero": false}, "axis": {"orient": "bottom", "values": [0,45,90,135,180], "format": "d", "tickSize": -6, "labelPadding": 12, "title": "Scattering angle", "labelFlush": false, "labelOverlap": false}},
  "y": {"field": "v", "type": "quantitative", "scale": {"domain": [-0.2,0.2], "nice": false}, "axis": {"orient": "left", "values": [-0.2,-0.15,-0.1,-0.05,0,0.05,0.1,0.15,0.2], "format": ".2f", "tickSize": -6, "labelPadding": 13, "title": null, "labelFlush": false, "labelOverlap": false}},
  "color": {"field": "s", "type": "nominal", "scale": {"domain": ["488nm","520nm","647nm"], "range": ["#0000ff","#007f00","#ff2020"]}},
  "shape": {"field": "s", "type": "nominal", "scale": {"domain": ["488nm","520nm","647nm"], "range": ["triangle-up","square","circle"]}}
 }},
{"transform": [{"fold": ["488nm","520nm","647nm"], "as": ["s","v"]}, {"filter": "datum.s === '520nm'"}],
 "mark": {"type": "errorbar", "ticks": false, "thickness": 1.4},
 "encoding": {"x": {"field": "x", "type": "quantitative", "scale": {"domain": [0,180], "nice": false, "zero": false}, "axis": null}, "y": {"field": "v", "type": "quantitative", "scale": {"domain": [-0.2,0.2], "nice": false}, "axis": null}, "yError": {"field": "e"}, "color": {"field": "s", "type": "nominal", "legend": null, "scale": {"domain": ["488nm","520nm","647nm"], "range": ["#0000ff","#007f00","#ff2020"]}}}},
{"transform": [{"fold": ["488nm","520nm","647nm"], "as": ["s","v"]}, {"filter": "datum.s === '520nm'"}],
 "mark": {"type": "point", "filled": false, "size": 85, "strokeWidth": 1.4, "opacity": 1},
 "encoding": {
  "x": {"field": "x", "type": "quantitative", "scale": {"domain": [0,180], "nice": false, "zero": false}, "axis": {"orient": "bottom", "values": [15,30,60,75,105,120,150,165], "tickSize": -3, "labels": false, "title": null}},
  "y": {"field": "v", "type": "quantitative", "scale": {"domain": [-0.2,0.2], "nice": false}, "axis": null},
  "color": {"field": "s", "type": "nominal", "scale": {"domain": ["488nm","520nm","647nm"], "range": ["#0000ff","#007f00","#ff2020"]}},
  "shape": {"field": "s", "type": "nominal", "scale": {"domain": ["488nm","520nm","647nm"], "range": ["triangle-up","square","circle"]}}
 }},
{"transform": [{"fold": ["488nm","520nm","647nm"], "as": ["s","v"]}, {"filter": "datum.s === '647nm'"}],
 "mark": {"type": "errorbar", "ticks": false, "thickness": 1.4},
 "encoding": {"x": {"field": "x", "type": "quantitative", "scale": {"domain": [0,180], "nice": false, "zero": false}, "axis": null}, "y": {"field": "v", "type": "quantitative", "scale": {"domain": [-0.2,0.2], "nice": false}, "axis": null}, "yError": {"field": "e"}, "color": {"field": "s", "type": "nominal", "legend": null, "scale": {"domain": ["488nm","520nm","647nm"], "range": ["#0000ff","#007f00","#ff2020"]}}}},
{"transform": [{"fold": ["488nm","520nm","647nm"], "as": ["s","v"]}, {"filter": "datum.s === '647nm'"}],
 "mark": {"type": "point", "filled": false, "size": 85, "strokeWidth": 1.4, "opacity": 1},
 "encoding": {
  "x": {"field": "x", "type": "quantitative", "scale": {"domain": [0,180], "nice": false, "zero": false}, "axis": {"orient": "top", "values": [0,45,90,135,180], "tickSize": -6, "labels": false, "title": null}},
  "y": {"field": "v", "type": "quantitative", "scale": {"domain": [-0.2,0.2], "nice": false}, "axis": {"orient": "right", "values": [-0.2,-0.15,-0.1,-0.05,0,0.05,0.1,0.15,0.2], "tickSize": -6, "labels": false, "title": null}},
  "color": {"field": "s", "type": "nominal", "scale": {"domain": ["488nm","520nm","647nm"], "range": ["#0000ff","#007f00","#ff2020"]}},
  "shape": {"field": "s", "type": "nominal", "scale": {"domain": ["488nm","520nm","647nm"], "range": ["triangle-up","square","circle"]}}
 }},
{"mark": {"type": "point", "opacity": 0},
 "encoding": {
  "x": {"field": "x", "type": "quantitative", "scale": {"domain": [0,180], "nice": false, "zero": false}, "axis": {"orient": "top", "values": [15,30,60,75,105,120,150,165], "tickSize": -3, "labels": false, "title": null}},
  "y": {"field": "488nm", "type": "quantitative", "scale": {"domain": [-0.2,0.2], "nice": false}, "axis": null}
 }},
{"data": {"values": [{}]},
 "mark": {"type": "text", "text": "(e)", "font": "Liberation Sans", "fontSize": 19, "color": "#222", "align": "center", "baseline": "middle"},
 "encoding": {"x": {"datum": 22.3, "type": "quantitative", "axis": null}, "y": {"datum": -0.17, "type": "quantitative", "axis": null}}}
]
},
{
"width": 320, "height": 317,
"title": {"text": "F₄₄/F₁₁"},
"data": {"name": "f"},
"resolve": {"axis": {"x": "independent", "y": "independent"}},
"layer": [
{"data": {"values": [{}]}, "mark": {"type": "rule", "strokeDash": [2,3], "strokeWidth": 2, "color": "#111"},
 "encoding": {"y": {"datum": 0, "type": "quantitative", "scale": {"domain": [-1,1], "nice": false}, "axis": null}}},
{"transform": [{"fold": ["488nm","520nm","647nm"], "as": ["s","v"]}, {"filter": "datum.s === '488nm'"}],
 "mark": {"type": "errorbar", "ticks": false, "thickness": 1.4},
 "encoding": {"x": {"field": "x", "type": "quantitative", "scale": {"domain": [0,180], "nice": false, "zero": false}, "axis": null}, "y": {"field": "v", "type": "quantitative", "scale": {"domain": [-1,1], "nice": false}, "axis": null}, "yError": {"field": "e"}, "color": {"field": "s", "type": "nominal", "legend": null, "scale": {"domain": ["488nm","520nm","647nm"], "range": ["#0000ff","#007f00","#ff2020"]}}}},
{"transform": [{"fold": ["488nm","520nm","647nm"], "as": ["s","v"]}, {"filter": "datum.s === '488nm'"}],
 "mark": {"type": "point", "filled": false, "size": 85, "strokeWidth": 1.4, "opacity": 1},
 "encoding": {
  "x": {"field": "x", "type": "quantitative", "scale": {"domain": [0,180], "nice": false, "zero": false}, "axis": {"orient": "bottom", "values": [0,45,90,135,180], "format": "d", "tickSize": -6, "labelPadding": 12, "title": "Scattering angle", "labelFlush": false, "labelOverlap": false}},
  "y": {"field": "v", "type": "quantitative", "scale": {"domain": [-1,1], "nice": false}, "axis": {"orient": "left", "values": [-1,-0.5,0,0.5,1], "format": ".1f", "tickSize": -6, "labelPadding": 13, "title": null, "labelFlush": false, "labelOverlap": false}},
  "color": {"field": "s", "type": "nominal", "scale": {"domain": ["488nm","520nm","647nm"], "range": ["#0000ff","#007f00","#ff2020"]}},
  "shape": {"field": "s", "type": "nominal", "scale": {"domain": ["488nm","520nm","647nm"], "range": ["triangle-up","square","circle"]}}
 }},
{"transform": [{"fold": ["488nm","520nm","647nm"], "as": ["s","v"]}, {"filter": "datum.s === '520nm'"}],
 "mark": {"type": "errorbar", "ticks": false, "thickness": 1.4},
 "encoding": {"x": {"field": "x", "type": "quantitative", "scale": {"domain": [0,180], "nice": false, "zero": false}, "axis": null}, "y": {"field": "v", "type": "quantitative", "scale": {"domain": [-1,1], "nice": false}, "axis": null}, "yError": {"field": "e"}, "color": {"field": "s", "type": "nominal", "legend": null, "scale": {"domain": ["488nm","520nm","647nm"], "range": ["#0000ff","#007f00","#ff2020"]}}}},
{"transform": [{"fold": ["488nm","520nm","647nm"], "as": ["s","v"]}, {"filter": "datum.s === '520nm'"}],
 "mark": {"type": "point", "filled": false, "size": 85, "strokeWidth": 1.4, "opacity": 1},
 "encoding": {
  "x": {"field": "x", "type": "quantitative", "scale": {"domain": [0,180], "nice": false, "zero": false}, "axis": {"orient": "bottom", "values": [15,30,60,75,105,120,150,165], "tickSize": -3, "labels": false, "title": null}},
  "y": {"field": "v", "type": "quantitative", "scale": {"domain": [-1,1], "nice": false}, "axis": {"orient": "left", "values": [-0.9,-0.8,-0.7,-0.6,-0.4,-0.3,-0.2,-0.1,0.1,0.2,0.3,0.4,0.6,0.7,0.8,0.9], "tickSize": -3, "labels": false, "title": null}},
  "color": {"field": "s", "type": "nominal", "scale": {"domain": ["488nm","520nm","647nm"], "range": ["#0000ff","#007f00","#ff2020"]}},
  "shape": {"field": "s", "type": "nominal", "scale": {"domain": ["488nm","520nm","647nm"], "range": ["triangle-up","square","circle"]}}
 }},
{"transform": [{"fold": ["488nm","520nm","647nm"], "as": ["s","v"]}, {"filter": "datum.s === '647nm'"}],
 "mark": {"type": "errorbar", "ticks": false, "thickness": 1.4},
 "encoding": {"x": {"field": "x", "type": "quantitative", "scale": {"domain": [0,180], "nice": false, "zero": false}, "axis": null}, "y": {"field": "v", "type": "quantitative", "scale": {"domain": [-1,1], "nice": false}, "axis": null}, "yError": {"field": "e"}, "color": {"field": "s", "type": "nominal", "legend": null, "scale": {"domain": ["488nm","520nm","647nm"], "range": ["#0000ff","#007f00","#ff2020"]}}}},
{"transform": [{"fold": ["488nm","520nm","647nm"], "as": ["s","v"]}, {"filter": "datum.s === '647nm'"}],
 "mark": {"type": "point", "filled": false, "size": 85, "strokeWidth": 1.4, "opacity": 1},
 "encoding": {
  "x": {"field": "x", "type": "quantitative", "scale": {"domain": [0,180], "nice": false, "zero": false}, "axis": {"orient": "top", "values": [0,45,90,135,180], "tickSize": -6, "labels": false, "title": null}},
  "y": {"field": "v", "type": "quantitative", "scale": {"domain": [-1,1], "nice": false}, "axis": {"orient": "right", "values": [-1,-0.5,0,0.5,1], "tickSize": -6, "labels": false, "title": null}},
  "color": {"field": "s", "type": "nominal", "scale": {"domain": ["488nm","520nm","647nm"], "range": ["#0000ff","#007f00","#ff2020"]}},
  "shape": {"field": "s", "type": "nominal", "scale": {"domain": ["488nm","520nm","647nm"], "range": ["triangle-up","square","circle"]}}
 }},
{"mark": {"type": "point", "opacity": 0},
 "encoding": {
  "x": {"field": "x", "type": "quantitative", "scale": {"domain": [0,180], "nice": false, "zero": false}, "axis": {"orient": "top", "values": [15,30,60,75,105,120,150,165], "tickSize": -3, "labels": false, "title": null}},
  "y": {"field": "488nm", "type": "quantitative", "scale": {"domain": [-1,1], "nice": false}, "axis": {"orient": "right", "values": [-0.9,-0.8,-0.7,-0.6,-0.4,-0.3,-0.2,-0.1,0.1,0.2,0.3,0.4,0.6,0.7,0.8,0.9], "tickSize": -3, "labels": false, "title": null}}
 }},
{"data": {"values": [{}]},
 "mark": {"type": "text", "text": "(f)", "font": "Liberation Sans", "fontSize": 19, "color": "#222", "align": "center", "baseline": "middle"},
 "encoding": {"x": {"datum": 17, "type": "quantitative", "axis": null}, "y": {"datum": -0.85, "type": "quantitative", "axis": null}}}
]
}
],
"config": {
 "view": {"stroke": "#111", "strokeWidth": 1.5},
 "axis": {"grid": false, "domain": false, "tickColor": "#111", "tickWidth": 1, "labelFont": "Liberation Serif", "labelFontSize": 14, "labelColor": "#333", "titleFont": "Liberation Sans", "titleFontSize": 19, "titleFontWeight": "normal", "titleColor": "#222", "titlePadding": 6},
 "title": {"font": "Liberation Serif", "fontStyle": "italic", "fontSize": 24, "fontWeight": "normal", "color": "#222", "offset": -1},
 "legend": {"symbolSize": 85, "symbolStrokeWidth": 1.4, "labelFont": "Liberation Sans", "labelFontSize": 17, "labelColor": "#222", "rowPadding": 5, "labelOffset": 19, "padding": 0}
}
}
